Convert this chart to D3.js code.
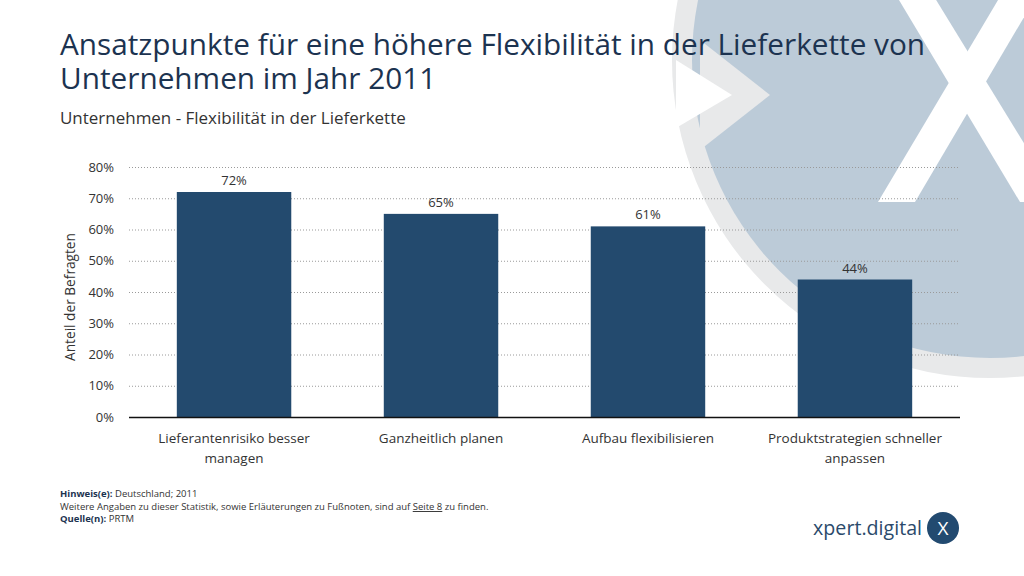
<!DOCTYPE html>
<html><head><meta charset="utf-8">
<script src="https://cdn.jsdelivr.net/npm/d3@7"></script>
<style>
body{margin:0;background:#fff;}
svg{display:block;font-family:"Open Sans",sans-serif;}
</style></head>
<body>
<svg id="c" width="1024" height="576"></svg>
<script>
const categories = [["Lieferantenrisiko besser","managen"],["Ganzheitlich planen"],["Aufbau flexibilisieren"],["Produktstrategien schneller","anpassen"]];
const values = [72, 65, 61, 44];
const yTicks = [0,10,20,30,40,50,60,70,80];

const svg = d3.select("#c");

// background decoration
const bg = svg.append("g");
bg.append("circle").attr("cx",990).attr("cy",60).attr("r",318).attr("fill","#e8e9ea");
bg.append("circle").attr("cx",990).attr("cy",60).attr("r",298).attr("fill","#bccbd8");
bg.append("polygon").attr("points","700,40 770,95 700,150").attr("fill","#e8e9ea");
bg.append("polygon").attr("points","676,60 732,95 676,128").attr("fill","#ffffff");
// white X
bg.append("polygon").attr("points","893,-10 930,-10 1060,202 1020,202").attr("fill","#fff");
bg.append("polygon").attr("points","878,202 915,202 1040,-10 1004,-10").attr("fill","#fff");

function fitText(sel, width){
  let fs = parseFloat(sel.attr("font-size"));
  const w = sel.node().getComputedTextLength();
  sel.attr("font-size", (fs*width/w).toFixed(2));
}
const t1 = svg.append("text").attr("x",60).attr("y",55).attr("font-size",30).attr("fill","#1c3350")
  .text("Ansatzpunkte für eine höhere Flexibilität in der Lieferkette von");
fitText(t1, 865);
svg.append("text").attr("x",60).attr("y",89).attr("font-size",t1.attr("font-size")).attr("fill","#1c3350")
  .text("Unternehmen im Jahr 2011");
const st = svg.append("text").attr("x",60).attr("y",124).attr("font-size",17).attr("fill","#333")
  .text("Unternehmen - Flexibilität in der Lieferkette");
fitText(st, 346);

// chart
const x0 = 129, x1 = 960, yTop = 167, yBot = 417;
const x = d3.scaleBand().domain(d3.range(categories.length)).range([x0,x1]).paddingInner(0.447).paddingOuter(0.231);
const y = d3.scaleLinear().domain([0,80]).range([yBot,yTop]);

svg.append("g").selectAll("line").data(yTicks.filter(d=>d>0)).join("line")
  .attr("x1",x0).attr("x2",x1).attr("y1",d=>y(d)+0.5).attr("y2",d=>y(d)+0.5)
  .attr("stroke","#9a9a9a").attr("stroke-width",1).attr("stroke-dasharray","1,2");

const yAxis = svg.append("g").attr("transform",`translate(${x0},0)`)
  .call(d3.axisLeft(y).tickValues(yTicks).tickFormat(d=>d+"%").tickSize(0).tickPadding(15));
yAxis.select(".domain").remove();
yAxis.selectAll("text").attr("font-size",13).attr("fill","#333").attr("font-family","Open Sans");

const at = svg.append("text").attr("transform",`translate(75,${(yTop+yBot)/2+5}) rotate(-90)`)
  .attr("text-anchor","middle").attr("font-size",13).attr("fill","#333").text("Anteil der Befragten");
fitText(at, 128);

svg.append("g").selectAll("rect").data(values).join("rect")
  .attr("x",(d,i)=>x(i)).attr("width",x.bandwidth())
  .attr("y",d=>y(d)).attr("height",d=>yBot-y(d)).attr("fill","#234a6e");

svg.append("g").selectAll("text").data(values).join("text")
  .attr("x",(d,i)=>x(i)+x.bandwidth()/2).attr("y",d=>y(d)-7)
  .attr("text-anchor","middle").attr("font-size",13).attr("fill","#333").text(d=>d+"%");

svg.append("line").attr("x1",x0).attr("x2",x1).attr("y1",yBot+0.5).attr("y2",yBot+0.5)
  .attr("stroke","#111").attr("stroke-width",1.6);

const xl = svg.append("g").selectAll("text").data(categories).join("text")
  .attr("x",(d,i)=>x(i)+x.bandwidth()/2).attr("y",443)
  .attr("text-anchor","middle").attr("font-size",13.5).attr("fill","#333");
xl.selectAll("tspan").data(d=>d).join("tspan")
  .attr("x",function(){return this.parentNode.getAttribute("x");})
  .attr("dy",(d,i)=>i===0?0:20).text(d=>d);

// footnotes
const f = svg.append("g").attr("font-size",9.5).attr("fill","#333");
const f1 = f.append("text").attr("x",60).attr("y",497);
f1.append("tspan").attr("font-weight","bold").attr("fill","#1c3350").text("Hinweis(e):");
f1.append("tspan").text(" Deutschland; 2011");
const f2 = f.append("text").attr("x",60).attr("y",510);
f2.append("tspan").text("Weitere Angaben zu dieser Statistik, sowie Erläuterungen zu Fußnoten, sind auf ");
f2.append("tspan").attr("text-decoration","underline").text("Seite 8");
f2.append("tspan").text(" zu finden.");
const f3 = f.append("text").attr("x",60).attr("y",522);
f3.append("tspan").attr("font-weight","bold").attr("fill","#1c3350").text("Quelle(n):");
f3.append("tspan").text(" PRTM");

// logo
const lg = svg.append("text").attr("x",922).attr("y",535).attr("text-anchor","end")
  .attr("font-size",22).attr("fill","#2b4a6b").text("xpert.digital");
fitText(lg, 109);
svg.append("circle").attr("cx",943).attr("cy",528).attr("r",16).attr("fill","#224a70");
svg.append("text").attr("x",943).attr("y",535).attr("text-anchor","middle")
  .attr("font-size",19).attr("fill","#fff").text("X");
</script>
</body></html>
